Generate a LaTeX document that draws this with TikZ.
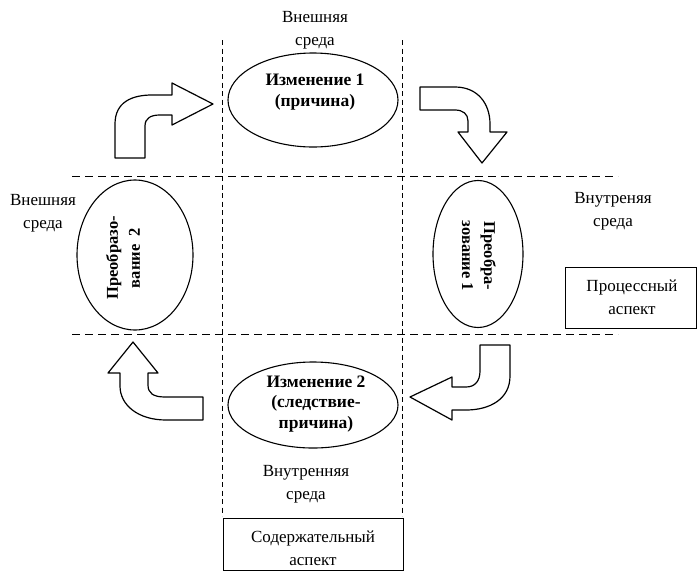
\documentclass[tikz,border=0pt]{standalone}
\usepackage{fontspec}
\setmainfont{Liberation Serif}
\usetikzlibrary{shapes.geometric}
\begin{document}
\begin{tikzpicture}[x=1pt,y=-1pt,
  lbl/.style={align=center,font=\fontsize{17}{23}\selectfont,inner sep=0pt},
  stage/.style={draw,ellipse,line width=1.1pt,inner sep=0pt},
  stagetext/.style={align=center,font=\fontsize{17.5}{20.5}\selectfont\bfseries,inner sep=0pt},
  sidetext/.style={align=center,font=\fontsize{16.5}{22}\selectfont\bfseries,inner sep=0pt},
  hline/.style={line width=1pt,dash pattern=on 8pt off 5pt},
  vline/.style={line width=1pt,dash pattern=on 5pt off 3.5pt},
  blockarrow/.style={draw,line width=1.2pt,fill=white,line join=round},
  aspect/.style={draw,line width=1pt}]
\useasboundingbox (0,0) rectangle (697,571);

% dashed grid
\coordinate (vlt) at (222,40);  \coordinate (vlb) at (222,516);
\coordinate (vrt) at (402,40);  \coordinate (vrb) at (402,516);
\coordinate (hul) at (72,176);  \coordinate (hur) at (618,176);
\coordinate (hdl) at (72,334);  \coordinate (hdr) at (618,334);
\draw[vline] (vlt) -- (vlb);
\draw[vline] (vrt) -- (vrb);
\draw[hline] (hul) -- (hur);
\draw[hline] (hdl) -- (hdr);

% four stages
\node[stage,minimum width=170pt,minimum height=94pt] (ch1) at (313,100) {};
\node[stagetext] (ch1t) at (315,92) {Изменение 1\\(причина)};

\node[stage,minimum width=90pt,minimum height=147pt] (tr1) at (478,254) {};
\node[sidetext,rotate=-90] (tr1t) at (479,256) {Преобра-\\зование 1};

\node[stage,minimum width=170pt,minimum height=86pt] (ch2) at (313,405) {};
\node[stagetext] (ch2t) at (316,404) {Изменение 2\\(следствие-\\причина)};

\node[stage,minimum width=116pt,minimum height=150pt] (tr2) at (135,255) {};
\node[sidetext,rotate=90] (tr2t) at (123,258) {Преобразо-\\вание~~2};

% environment labels
\node[lbl] (envtop) at (315,30) {Внешняя\\среда};
\node[lbl] (envleft) at (43,213) {Внешняя\\среда};
\node[lbl] (envright) at (613,211) {Внутреняя\\среда};
\node[lbl] (envbot) at (306,484) {Внутренняя\\среда};

% aspect boxes
\draw[aspect] (565,267) rectangle (696,328);
\node[lbl] (proc) at (632,297) {Процессный\\аспект};
\draw[aspect] (223,518) rectangle (403,570);
\node[lbl] (cont) at (313,548) {Содержательный\\аспект};

% curved block arrows
\draw[blockarrow] (115,158) -- (115,124) .. controls (115,102) and (132,95) .. (152,95)
  -- (172,95) -- (172,83) -- (213,104) -- (172,125) -- (172,115) -- (160,115)
  .. controls (151,115) and (145,118) .. (145,126) -- (145,158) -- cycle;

\draw[blockarrow] (420,87) -- (455,87) .. controls (478,87) and (490,104) .. (490,124)
  -- (490,132) -- (507,132) -- (482,163) -- (458,132) -- (468,132) -- (468,121)
  .. controls (468,114) and (463,110) .. (455,110) -- (420,110) -- cycle;

\draw[blockarrow] (480,345) -- (510,345) -- (510,376) .. controls (510,399) and (490,410) .. (466,410)
  -- (452,410) -- (452,420) -- (410,397) -- (452,377) -- (452,387) -- (466,387)
  .. controls (475,387) and (480,381) .. (480,371) -- cycle;

\draw[blockarrow] (133,342) -- (158,373) -- (148,373) -- (148,385)
  .. controls (148,393) and (153,397) .. (165,397) -- (203,397) -- (203,420) -- (166,420)
  .. controls (138,420) and (120,405) .. (120,386) -- (120,373) -- (108,373) -- cycle;
\end{tikzpicture}
\end{document}
